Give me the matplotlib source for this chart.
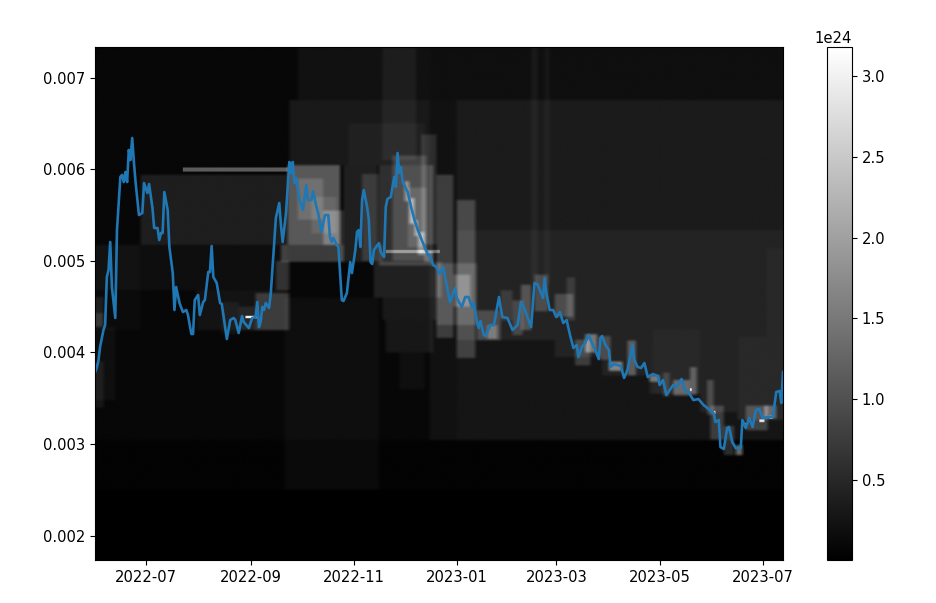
import numpy as np
import matplotlib
matplotlib.use('Agg')
import matplotlib.pyplot as plt
import matplotlib.dates as mdates

# price line, days since 2022-06-01
line_day = [0, 1, 2, 3, 5, 6, 7, 8, 9, 10, 12, 13, 15, 16, 17, 18, 19, 20, 21, 22, 23, 24, 26, 28, 29, 31, 32, 34, 35, 37,
            38, 39, 40, 41, 43, 44, 46, 47, 48, 50, 52, 54, 55, 57, 58, 59, 61, 62, 64, 65, 67, 68, 69, 70, 72, 74, 75, 78, 80, 82,
            83, 85, 87, 88, 91, 93, 95, 96, 97, 98, 99, 100, 101, 103, 104, 106, 107, 109, 110, 111, 112, 113, 114, 115, 116, 117, 118, 119, 121, 123,
            125, 126, 128, 129, 131, 132, 134, 136, 138, 139, 140, 141, 143, 144, 146, 147, 149, 151, 152, 154, 155, 156, 157, 158, 159, 161, 162, 163, 164, 165,
            168, 169, 171, 172, 173, 175, 177, 178, 179, 180, 181, 182, 185, 187, 189, 191, 194, 197, 198, 200, 202, 204, 206, 208, 210, 213, 214, 217, 219, 221,
            223, 224, 226, 227, 228, 230, 231, 234, 236, 239, 240, 241, 244, 247, 250, 252, 254, 256, 258, 260, 262, 265, 266, 267, 269, 271, 273, 275, 277, 279,
            281, 283, 285, 286, 288, 290, 292, 294, 296, 298, 299, 300, 302, 304, 305, 307, 311, 313, 315, 318, 319, 321, 323, 325, 327, 330, 333, 334, 336, 338,
            340, 342, 344, 347, 349, 351, 354, 357, 360, 363, 366, 367, 369, 370, 372, 374, 375, 377, 379, 382, 383, 385, 387, 389, 391, 393, 395, 398, 401, 403,
            405, 406, 407]
line_price = [3780, 3830, 3906, 4059, 4245, 4299, 4823, 4900, 5205, 4714, 4376, 5336, 5915, 5937, 5860, 5969, 5860, 6210, 6100, 6341, 6079, 5860, 5500, 5522, 5849, 5740, 5838, 5576, 5358, 5358,
              5227, 5303, 5303, 5751, 5555, 5151, 4867, 4463, 4714, 4539, 4441, 4463, 4408, 4201, 4201, 4572, 4627, 4408, 4550, 4572, 4878, 4878, 5162, 4823, 4758, 4539, 4528, 4146, 4354, 4376,
              4354, 4212, 4397, 4332, 4266, 4376, 4386, 4550, 4277, 4332, 4496, 4463, 4539, 4485, 4648, 5194, 5467, 5631, 5391, 5205, 5358, 5522, 5806, 6079, 5959, 6079, 5849, 5904, 5664, 5555,
              5827, 5664, 5664, 5762, 5587, 5522, 5314, 5500, 5500, 5260, 5205, 5249, 5173, 5151, 4572, 4561, 4648, 4987, 4867, 5118, 5314, 5336, 5151, 5664, 5773, 5587, 5445, 4987, 4965, 5118,
              5194, 5096, 5041, 5587, 5675, 5697, 5915, 5806, 6177, 5959, 6024, 5860, 5751, 5587, 5445, 5336, 5194, 5063, 5063, 4954, 4932, 4856, 4932, 4736, 4550, 4703, 4594, 4496, 4605, 4605,
              4496, 4539, 4332, 4266, 4343, 4190, 4179, 4299, 4299, 4605, 4485, 4386, 4376, 4245, 4299, 4550, 4485, 4376, 4277, 4758, 4736, 4594, 4812, 4648, 4463, 4463, 4386, 4441, 4321, 4354,
              4190, 4048, 4081, 3950, 4059, 4103, 4190, 4103, 4026, 3928, 4157, 4179, 4081, 4026, 3841, 3873, 3852, 3721, 3808, 4081, 3917, 3841, 3830, 3884, 3731, 3764, 3742, 3644, 3699, 3535,
              3590, 3644, 3622, 3710, 3579, 3568, 3480, 3491, 3426, 3382, 3338, 3240, 3262, 2967, 2945, 3175, 3186, 3022, 2956, 2956, 3262, 3175, 3284, 3186, 3371, 3382, 3284, 3295, 3295, 3568,
              3579, 3448, 3786]

# liquidity blocks: start day, end day, low price, high price (1e-6), level (1e24)
base_blocks = [[0, 407, 2498, 7334, 0.05], [0, 407, 3044, 7334, 0.05], [214, 407, 3044, 6755, 0.17],
               [198, 214, 3044, 6755, 0.12], [112, 168, 2498, 4600, 0.08], [214, 272, 4135, 5336, 0.18],
               [272, 300, 3950, 5336, 0.18], [300, 328, 3750, 5336, 0.18], [328, 358, 3550, 5336, 0.18],
               [358, 380, 3350, 5336, 0.18], [380, 407, 3262, 5336, 0.18], [214, 407, 5336, 6755, 0.08],
               [198, 407, 6755, 7334, 0.1], [381, 407, 3262, 4170, 0.07], [397, 407, 4170, 5140, 0.06],
               [330, 358, 3550, 4250, 0.06]]
left_blocks = [[27, 114, 5172, 5937, 0.28], [0, 114, 4681, 5172, 0.08], [0, 27, 4245, 5172, 0.05],
               [0, 5, 4277, 4605, 0.25], [0, 5, 4277, 4430, 0.3], [0, 12, 3480, 4277, 0.1],
               [0, 5, 3400, 3900, 0.2], [60, 114, 4245, 4681, 0.15], [95, 115, 4245, 4650, 0.5],
               [85, 95, 4245, 4500, 0.25], [75, 85, 4200, 4550, 0.15], [107, 115, 4680, 5000, 0.45]]
peak_blocks = [[120, 198, 6755, 7334, 0.12], [170, 190, 6100, 7334, 0.15], [115, 198, 6046, 6755, 0.22],
               [150, 195, 6046, 6500, 0.1], [114, 145, 5172, 6046, 1.0], [120, 135, 5450, 5900, 0.3],
               [135, 147, 5172, 5550, 0.5], [128, 143, 5300, 5700, 0.2], [110, 147, 4987, 5172, 0.65],
               [147, 167, 5172, 6046, 0.3], [158, 168, 5000, 5950, 0.35], [145, 170, 4987, 5172, 0.3],
               [168, 200, 4950, 6046, 0.5], [176, 196, 5000, 6150, 0.4], [185, 196, 5150, 5800, 0.3],
               [183, 186, 5650, 5870, 0.8], [186, 189, 5405, 5685, 1.0], [189, 191, 5270, 5445, 0.9],
               [191, 195, 5063, 5314, 0.8], [195, 200, 4987, 5100, 0.7], [165, 205, 4600, 4987, 0.32],
               [170, 202, 4354, 4600, 0.22], [172, 200, 4000, 4354, 0.2], [180, 195, 3600, 4000, 0.1],
               [193, 202, 5180, 6380, 0.35], [202, 212, 4157, 5937, 0.55], [214, 225, 3939, 5664, 0.55],
               [202, 226, 4300, 4975, 0.35], [212, 222, 4500, 4850, 0.5]]
fall_blocks = [[226, 240, 4135, 4460, 0.5], [232, 238, 4150, 4300, 0.6], [240, 247, 4350, 4680, 0.3],
               [247, 253, 4190, 4570, 0.45], [252, 258, 4245, 4740, 0.6], [258, 262, 4740, 7334, 0.12],
               [266, 269, 4740, 7334, 0.1], [260, 268, 4450, 4850, 0.5], [272, 283, 4390, 4640, 0.5],
               [279, 284, 4350, 4820, 0.3], [290, 297, 4000, 4200, 1.0], [284, 293, 3860, 4140, 0.5],
               [298, 305, 3920, 4180, 0.5], [304, 312, 3800, 3900, 1.2], [315, 320, 3750, 4130, 0.7],
               [328, 334, 3680, 3750, 1.0], [336, 340, 3520, 3780, 0.4], [352, 356, 3540, 3840, 0.7],
               [342, 352, 3530, 3700, 0.8], [362, 366, 3320, 3700, 0.5], [364, 372, 3050, 3420, 0.5],
               [372, 378, 2880, 3200, 0.5], [379, 383, 2880, 2990, 1.2], [385, 398, 3150, 3420, 0.55],
               [396, 403, 3280, 3420, 0.8]]
thin_blocks = [[52, 114, 5975, 6020, 1.05], [89, 96, 4375, 4397, 3.1], [172, 204, 5085, 5118, 1.0],
               [352, 353, 3580, 3610, 2.5], [366, 367, 3330, 3360, 2.5], [384, 385, 3180, 3230, 2.0],
               [393, 396, 3240, 3270, 2.0], [399, 401, 3280, 3310, 2.5]]

y_min, y_max = 0.001734, 0.007334
start = np.datetime64('2022-06-01')

days = np.arange(0, 407, 0.5) + 0.25
prices = np.arange(1734, 7334, 5) + 2.5


def add_blocks(grid, blocks):
    for d0, d1, p0, p1, level in blocks:
        col = (days >= d0) & (days < d1)
        row = (prices >= p0) & (prices < p1)
        grid[np.ix_(row, col)] += level


def soften(grid, n_day, n_price):
    # the reference was rescaled, so the block edges are not sharp
    padded = np.pad(grid, ((n_price, n_price), (n_day, n_day)), mode='edge')
    padded = np.apply_along_axis(np.convolve, 1, padded, np.ones(n_day) / n_day, mode='same')
    padded = np.apply_along_axis(np.convolve, 0, padded, np.ones(n_price) / n_price, mode='same')
    return padded[n_price:-n_price, n_day:-n_day]


heat = np.zeros((len(prices), len(days)))
add_blocks(heat, base_blocks + left_blocks + peak_blocks + fall_blocks)
heat = soften(heat, 5, 7)
add_blocks(heat, thin_blocks)
heat = np.minimum(heat, 3.18) * 1e24

x0 = mdates.date2num(start)
x1 = mdates.date2num(start + np.timedelta64(407, 'D'))

fig = plt.figure(figsize=(9.36, 6.03), dpi=100)
ax = fig.add_axes([95 / 936, 43 / 603, 688 / 936, 513 / 603])
cax = fig.add_axes([827 / 936, 43 / 603, 25 / 936, 513 / 603])

im = ax.imshow(heat, origin='lower', aspect='auto', cmap='gray', extent=[x0, x1, y_min, y_max],
               vmin=0.005e24, vmax=3.18e24, interpolation='bilinear')
line_x = start + np.array(line_day).astype('timedelta64[D]')
ax.plot(line_x, np.array(line_price) * 1e-6, color='#1f77b4', linewidth=1.9)

ax.set_xlim(x0, x1)
ax.set_ylim(y_min, y_max)
ax.xaxis.set_major_locator(mdates.MonthLocator(bymonth=[1, 3, 5, 7, 9, 11]))
ax.xaxis.set_major_formatter(mdates.DateFormatter('%Y-%m'))
ax.set_yticks([0.002, 0.003, 0.004, 0.005, 0.006, 0.007])
ax.tick_params(labelsize=10.6)

cbar = fig.colorbar(im, cax=cax)
cbar.set_ticks(np.array([0.5, 1.0, 1.5, 2.0, 2.5, 3.0]) * 1e24)
cbar.ax.tick_params(labelsize=10.6)
cbar.ax.yaxis.get_offset_text().set_fontsize(10.6)

fig.savefig('out.png', dpi=100)
